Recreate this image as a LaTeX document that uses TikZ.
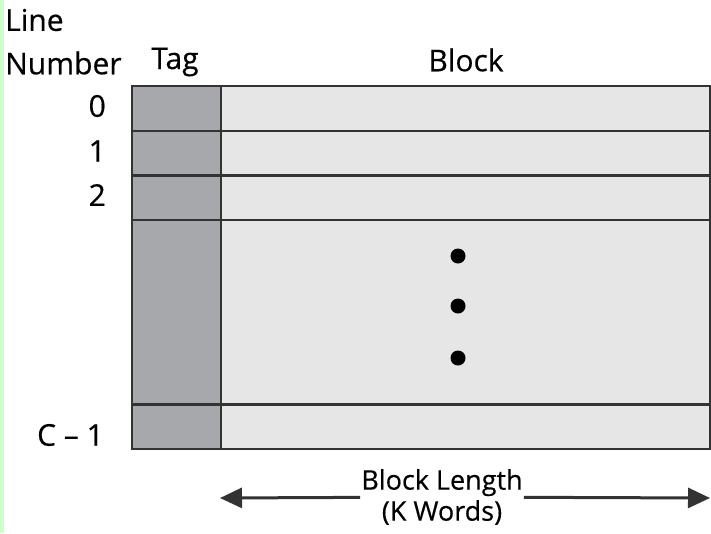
\documentclass[tikz,border=0pt]{standalone}
\usepackage{fontspec}
\setmainfont{Open Sans}[FakeBold=0.4]
\usetikzlibrary{arrows.meta,positioning}

\definecolor{taggray}{HTML}{A7A8AB}
\definecolor{blockgray}{HTML}{E6E6E6}
\definecolor{linegray}{HTML}{333333}
\definecolor{stripgreen}{HTML}{CCFFCC}

\begin{document}
\begin{tikzpicture}[x=1pt,y=-1pt,>={Triangle[length=22pt 0,width=20pt 0]},
  font=\fontsize{30}{34}\selectfont,
  tagcell/.style={draw=linegray,fill=taggray,line width=2.4pt,anchor=north west,inner sep=0,minimum width=89pt},
  blockcell/.style={draw=linegray,fill=blockgray,line width=2.4pt,anchor=north west,inner sep=0,minimum width=489pt},
  num/.style={anchor=east,inner sep=0},
  dot/.style={circle,fill=black,inner sep=0,minimum size=15pt}]
  \useasboundingbox (0,0) rectangle (711,533);
  \fill[stripgreen] (0,0) rectangle (4,533);

  % headings
  \node[anchor=west,inner sep=0] (line) at (5,20) {Line};
  \node[anchor=west,inner sep=0] (number) at (5,63) {Number};
  \node (tag) at (175,62) {Tag};
  \node (block) at (466,60) {Block};

  % rows
  \node[tagcell,minimum height=44.6pt] (t0) at (131,85) {};
  \node[blockcell,minimum height=44.6pt] (b0) at (220,85) {};
  \node[tagcell,minimum height=44.6pt] (t1) at (131,129.6) {};
  \node[blockcell,minimum height=44.6pt] (b1) at (220,129.6) {};
  \node[tagcell,minimum height=44.6pt] (t2) at (131,174.2) {};
  \node[blockcell,minimum height=44.6pt] (b2) at (220,174.2) {};
  \node[tagcell,minimum height=184.6pt] (tx) at (131,218.8) {};
  \node[blockcell,minimum height=184.6pt] (bx) at (220,218.8) {};
  \node[tagcell,minimum height=44.6pt] (tc) at (131,403.4) {};
  \node[blockcell,minimum height=44.6pt] (bc) at (220,403.4) {};

  % line numbers
  \node[num] (n0) at (106,106) {0};
  \node[num] (n1) at (106,151) {1};
  \node[num] (n2) at (106,195) {2};
  \node[num] (nc) at (104,435) {C -- 1};

  % dots
  \foreach \y/\name in {256/d1,306/d2,358/d3}
    \node[dot] (\name) at (458,\y) {};

  % block length
  \coordinate (aleft) at (220,498);
  \coordinate (aright) at (710,498);
  \node[align=center,inner sep=1pt,font=\fontsize{27}{31}\selectfont] (len) at (442,497) {Block Length\\(K Words)};
  \draw[->,line width=3pt,draw=linegray] (len) -- (aleft);
  \draw[->,line width=3pt,draw=linegray] (len) -- (aright);
\end{tikzpicture}
\end{document}
